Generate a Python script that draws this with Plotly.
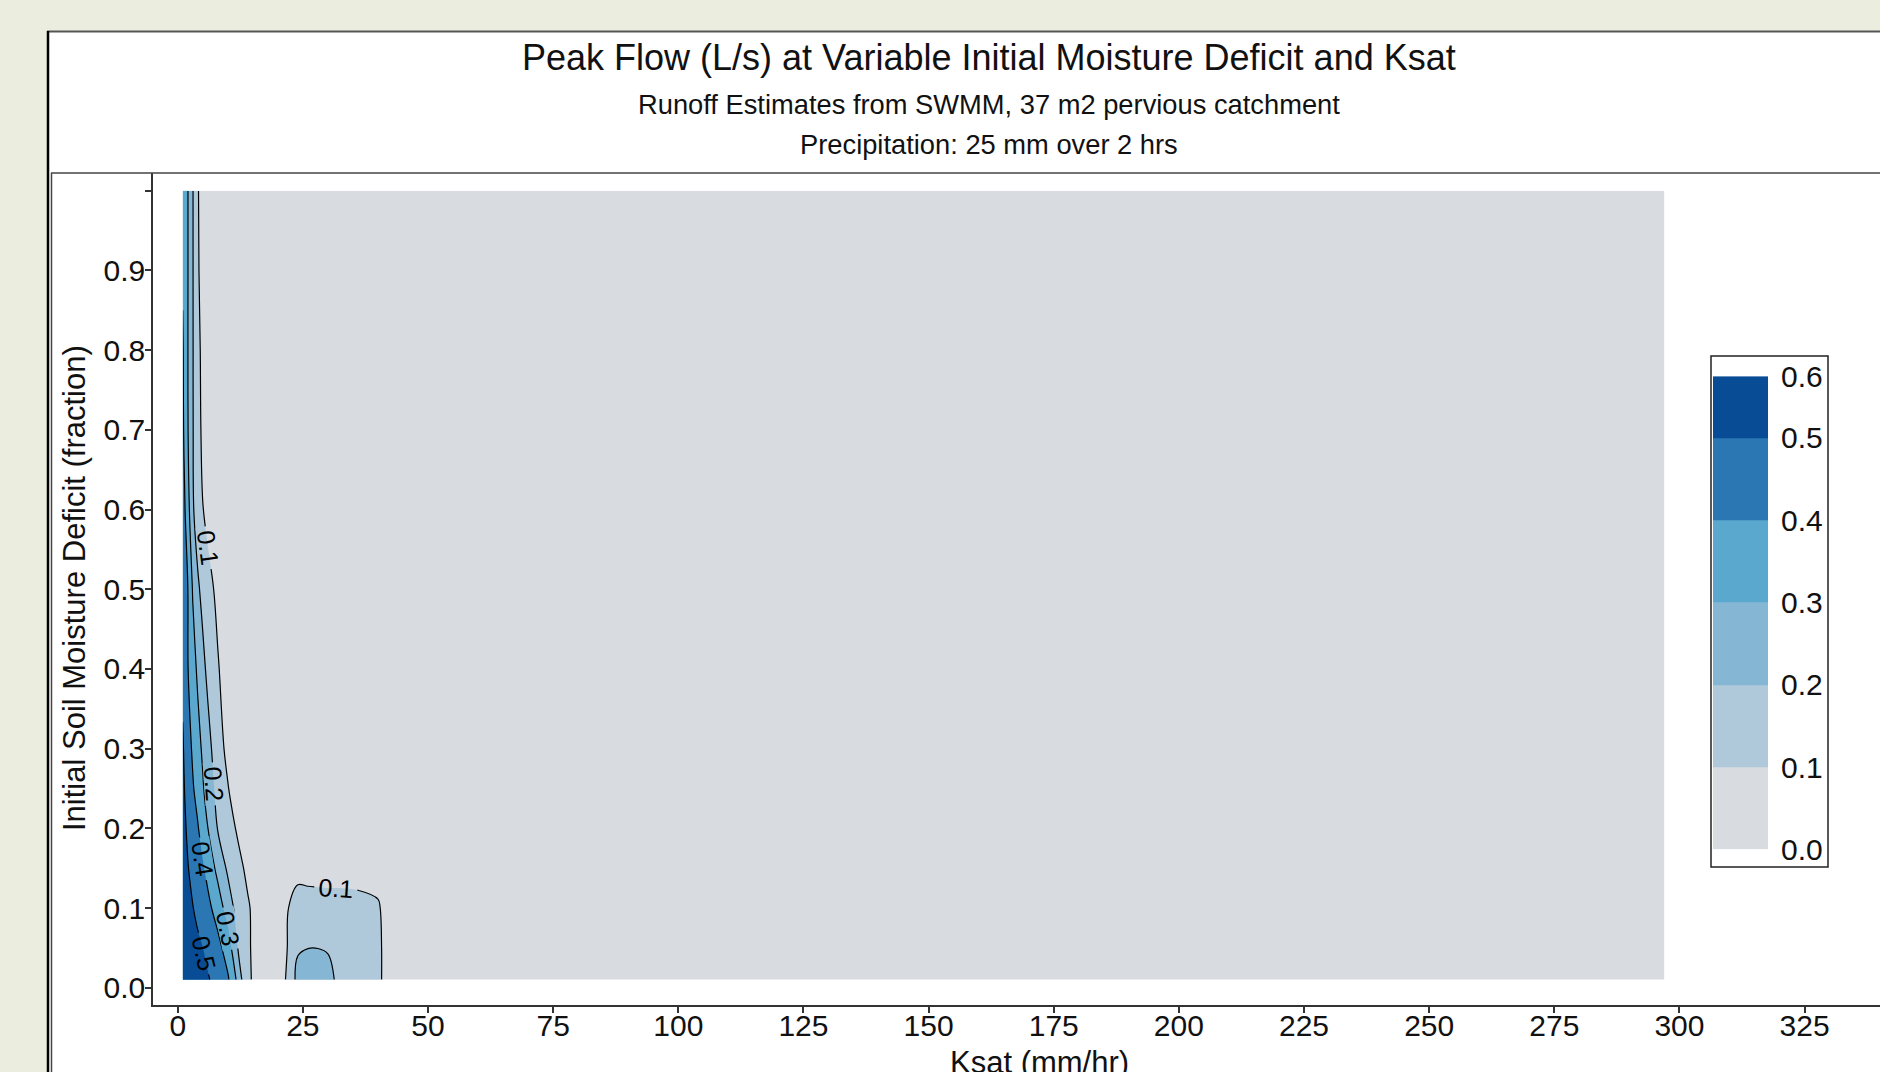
import plotly.graph_objects as go

# ---------------- data ----------------
ksat = [1, 2, 3, 4, 5, 6, 8, 10, 11, 12, 13, 14, 16, 20, 24, 26, 28, 30, 32, 36, 40, 42, 297]
imd = [0.01, 0.05, 0.1, 0.15, 0.2, 0.25, 0.3, 0.4, 0.5, 0.6, 0.7, 0.8, 0.9, 1.0]

peak_imd_001 = [0.575, 0.562, 0.549, 0.536, 0.522, 0.509, 0.466, 0.413, 0.358, 0.27, 0.183, 0.128, 0.048, 0.02, 0.23, 0.24, 0.25, 0.235, 0.18, 0.16, 0.14, 0.03, 0.0]
peak_imd_005 = [0.57, 0.553, 0.535, 0.518, 0.501, 0.477, 0.432, 0.354, 0.277, 0.199, 0.16, 0.12, 0.048, 0.02, 0.19, 0.199, 0.199, 0.192, 0.17, 0.15, 0.14, 0.03, 0.0]
peak_imd_010 = [0.56, 0.531, 0.503, 0.478, 0.453, 0.428, 0.355, 0.255, 0.205, 0.174, 0.144, 0.115, 0.048, 0.02, 0.17, 0.16, 0.155, 0.15, 0.15, 0.14, 0.12, 0.03, 0.0]
peak_imd_015 = [0.55, 0.505, 0.473, 0.442, 0.412, 0.37, 0.27, 0.184, 0.158, 0.132, 0.105, 0.072, 0.03, 0.02, 0.05, 0.05, 0.05, 0.05, 0.05, 0.05, 0.03, 0.02, 0.0]
peak_imd_020 = [0.53, 0.485, 0.446, 0.408, 0.356, 0.302, 0.195, 0.142, 0.116, 0.086, 0.051, 0.03, 0.02, 0.02, 0.02, 0.02, 0.02, 0.02, 0.02, 0.02, 0.02, 0.02, 0.0]
peak_imd_025 = [0.52, 0.462, 0.41, 0.363, 0.311, 0.256, 0.169, 0.106, 0.072, 0.037, 0.02, 0.02, 0.02, 0.02, 0.02, 0.02, 0.02, 0.02, 0.02, 0.02, 0.02, 0.02, 0.0]
peak_imd_030 = [0.51, 0.444, 0.385, 0.335, 0.284, 0.232, 0.146, 0.072, 0.037, 0.02, 0.02, 0.02, 0.02, 0.02, 0.02, 0.02, 0.02, 0.02, 0.02, 0.02, 0.02, 0.02, 0.0]
peak_imd_040 = [0.48, 0.405, 0.343, 0.282, 0.224, 0.179, 0.11, 0.04, 0.02, 0.02, 0.02, 0.02, 0.02, 0.02, 0.02, 0.02, 0.02, 0.02, 0.02, 0.02, 0.02, 0.02, 0.0]
peak_imd_050 = [0.47, 0.404, 0.292, 0.215, 0.173, 0.14, 0.072, 0.02, 0.02, 0.02, 0.02, 0.02, 0.02, 0.02, 0.02, 0.02, 0.02, 0.02, 0.02, 0.02, 0.02, 0.02, 0.0]
peak_imd_060 = [0.45, 0.343, 0.212, 0.154, 0.103, 0.067, 0.02, 0.02, 0.02, 0.02, 0.02, 0.02, 0.02, 0.02, 0.02, 0.02, 0.02, 0.02, 0.02, 0.02, 0.02, 0.02, 0.0]
peak_imd_070 = [0.42, 0.307, 0.206, 0.136, 0.079, 0.044, 0.02, 0.02, 0.02, 0.02, 0.02, 0.02, 0.02, 0.02, 0.02, 0.02, 0.02, 0.02, 0.02, 0.02, 0.02, 0.02, 0.0]
peak_imd_080 = [0.41, 0.304, 0.206, 0.124, 0.076, 0.041, 0.02, 0.02, 0.02, 0.02, 0.02, 0.02, 0.02, 0.02, 0.02, 0.02, 0.02, 0.02, 0.02, 0.02, 0.02, 0.02, 0.0]
peak_imd_090 = [0.39, 0.305, 0.206, 0.11, 0.069, 0.034, 0.02, 0.02, 0.02, 0.02, 0.02, 0.02, 0.02, 0.02, 0.02, 0.02, 0.02, 0.02, 0.02, 0.02, 0.02, 0.02, 0.0]
peak_imd_100 = [0.37, 0.305, 0.206, 0.106, 0.067, 0.032, 0.02, 0.02, 0.02, 0.02, 0.02, 0.02, 0.02, 0.02, 0.02, 0.02, 0.02, 0.02, 0.02, 0.02, 0.02, 0.02, 0.0]

peak_flow = [peak_imd_001, peak_imd_005, peak_imd_010, peak_imd_015, peak_imd_020,
             peak_imd_025, peak_imd_030, peak_imd_040, peak_imd_050, peak_imd_060,
             peak_imd_070, peak_imd_080, peak_imd_090, peak_imd_100]

# colour key levels (top block ends at the data maximum, labelled 0.6)
key_edges = [0.0, 0.1, 0.2, 0.3, 0.4, 0.5, 0.575]
key_labels = ["0.0", "0.1", "0.2", "0.3", "0.4", "0.5", "0.6"]
key_colors = ["#D8DCE1", "#AFC9DB", "#85B7D5", "#5BA8CE", "#2A77B4", "#084C96"]

x_ticks = [0, 25, 50, 75, 100, 125, 150, 175, 200, 225, 250, 275, 300, 325]
y_ticks = [0.0, 0.1, 0.2, 0.3, 0.4, 0.5, 0.6, 0.7, 0.8, 0.9, 1.0]
y_ticktext = ["0.0", "0.1", "0.2", "0.3", "0.4", "0.5", "0.6", "0.7", "0.8", "0.9", ""]

title = "Peak Flow (L/s) at Variable Initial Moisture Deficit and Ksat"
subtitle1 = "Runoff Estimates from SWMM, 37 m2 pervious catchment"
subtitle2 = "Precipitation: 25 mm over 2 hrs"
x_title = "Ksat (mm/hr)"
y_title = "Initial Soil Moisture Deficit (fraction)"

# ---------------- layout helpers ----------------
W, H = 1880, 1072
L, R, T, B = 153, 0, 173, 67
PW, PH = W - L - R, H - T - B
FONT = "Liberation Sans, Arial, sans-serif"
TXT = "#111111"
AX = "#333333"


def fx(px):
    return (px - L) / PW


def fy(py):
    return 1 - (py - T) / PH


n = len(key_colors)
cscale = [[i / (n - 1), c] for i, c in enumerate(key_colors)]

fig = go.Figure()

fig.add_trace(go.Contour(
    x=ksat, y=imd, z=peak_flow,
    autocontour=False,
    contours=dict(start=0.1, end=0.5, size=0.1, coloring="fill",
                  showlabels=True, labelformat=".1f",
                  labelfont=dict(size=25, color="black", family=FONT)),
    line=dict(color="black", width=1.2),
    colorscale=cscale, showscale=False, hoverinfo="skip",
))

fig.add_trace(go.Heatmap(
    x=[0, 1], y=key_edges, z=[[i] for i in range(n)],
    zmin=0, zmax=n - 1, colorscale=cscale, showscale=False,
    xaxis="x2", yaxis="y2", hoverinfo="skip",
))

shapes = [
    dict(type="rect", xref="paper", yref="paper", x0=fx(47), x1=fx(1890), y0=fy(1090), y1=fy(31),
         fillcolor="white", line=dict(width=0), layer="below"),
    dict(type="line", xref="paper", yref="paper", x0=fx(47), x1=fx(1890), y0=fy(31.5), y1=fy(31.5),
         line=dict(color="#555555", width=2)),
    dict(type="line", xref="paper", yref="paper", x0=fx(48), x1=fx(48), y0=fy(31), y1=fy(1090),
         line=dict(color="black", width=2.5)),
    dict(type="line", xref="paper", yref="paper", x0=fx(51), x1=fx(1890), y0=fy(173), y1=fy(173),
         line=dict(color="#444444", width=1.5)),
    dict(type="line", xref="paper", yref="paper", x0=fx(51.5), x1=fx(51.5), y0=fy(173), y1=fy(1090),
         line=dict(color="#444444", width=1.5)),
    dict(type="rect", xref="paper", yref="paper", x0=fx(1711), x1=fx(1828), y0=fy(867), y1=fy(356),
         line=dict(color="#222222", width=1.5), fillcolor="rgba(0,0,0,0)"),
]

annotations = [
    dict(text=title, x=fx(989), y=fy(57.5), xref="paper", yref="paper", showarrow=False,
         xanchor="center", yanchor="middle", font=dict(size=36, color=TXT, family=FONT)),
    dict(text=subtitle1, x=fx(989), y=fy(104), xref="paper", yref="paper", showarrow=False,
         xanchor="center", yanchor="middle", font=dict(size=27.3, color=TXT, family=FONT)),
    dict(text=subtitle2, x=fx(989), y=fy(145), xref="paper", yref="paper", showarrow=False,
         xanchor="center", yanchor="middle", font=dict(size=27.3, color=TXT, family=FONT)),
    dict(text=y_title, x=fx(74), y=fy(588), xref="paper", yref="paper", showarrow=False,
         textangle=-90, xanchor="center", yanchor="middle", font=dict(size=31, color=TXT, family=FONT)),
    dict(text=x_title, x=fx(1039), y=fy(1062), xref="paper", yref="paper", showarrow=False,
         xanchor="center", yanchor="middle", font=dict(size=31, color=TXT, family=FONT)),
]

fig.update_layout(
    width=W, height=H, autosize=False,
    margin=dict(l=L, r=R, t=T, b=B, pad=0),
    paper_bgcolor="#EBEEDF", plot_bgcolor="white",
    font=dict(family=FONT, color=TXT, size=30),
    showlegend=False,
    shapes=shapes, annotations=annotations,
    xaxis=dict(range=[-4.94, 340.06], domain=[0, 1], tickmode="array", tickvals=x_ticks,
               showline=True, linecolor=AX, linewidth=1.5, mirror=False,
               ticks="outside", ticklen=6, tickwidth=1.5, tickcolor=AX,
               ticklabelstandoff=-13,
               showgrid=False, zeroline=False, tickfont=dict(size=30, color=TXT, family=FONT)),
    yaxis=dict(range=[-0.0217, 1.0222], domain=[0, 1], tickmode="array", tickvals=y_ticks,
               ticktext=y_ticktext,
               showline=True, linecolor=AX, linewidth=1.5, mirror=False,
               ticks="outside", ticklen=6, tickwidth=1.5, tickcolor=AX,
               ticklabelstandoff=-6,
               showgrid=False, zeroline=False, tickfont=dict(size=30, color=TXT, family=FONT)),
    xaxis2=dict(domain=[fx(1713), fx(1768)], range=[0, 1], anchor="y2", visible=False),
    yaxis2=dict(domain=[fy(849.6), fy(376.2)], range=[key_edges[0], key_edges[-1]], anchor="x2",
                side="right", tickmode="array", tickvals=key_edges, ticktext=key_labels,
                ticks="", showline=False, showgrid=False, zeroline=False,
                ticklabelstandoff=12, tickfont=dict(size=30, color=TXT, family=FONT)),
)

fig.write_html("out.html")
